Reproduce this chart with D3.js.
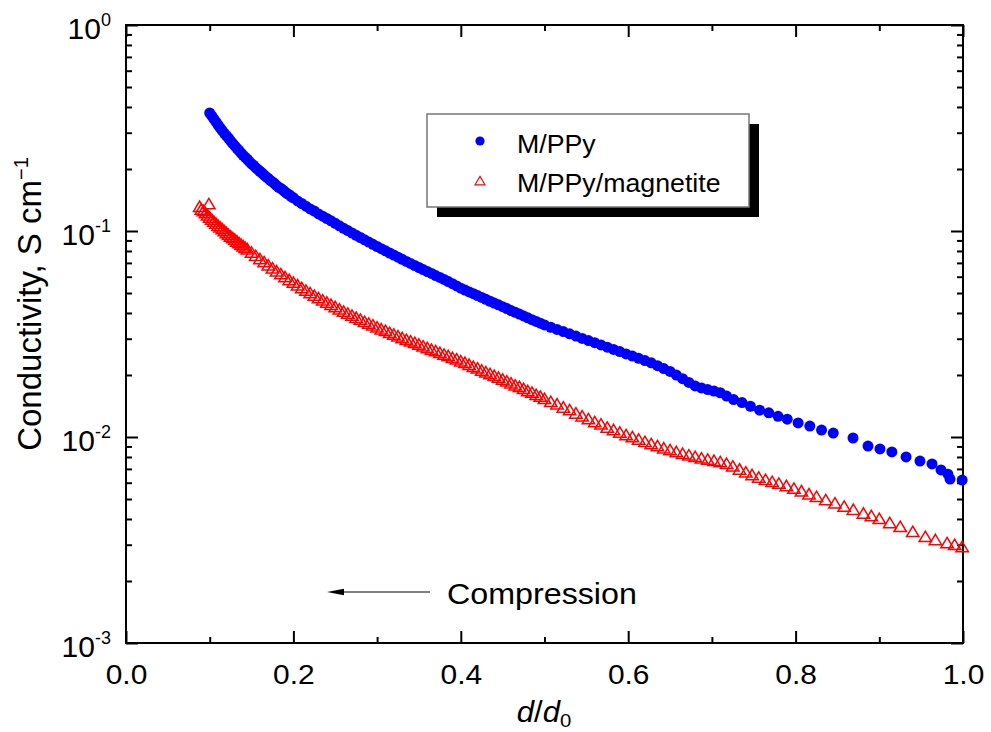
<!DOCTYPE html>
<html><head><meta charset="utf-8">
<script src="https://cdn.jsdelivr.net/npm/d3@7/dist/d3.min.js"></script>
<style>
body{margin:0;background:#fff}
svg{display:block}
text{font-family:"Liberation Sans",Arial,Helvetica,sans-serif;fill:#000}
</style>
</head><body>
<svg id="chart" width="991" height="732"></svg>
<script>
// ---------- data ----------
const seriesNames = ["M/PPy", "M/PPy/magnetite"];
const xTickValues = [0, 0.2, 0.4, 0.6, 0.8, 1.0];
const xMinorValues = [0.1, 0.3, 0.5, 0.7, 0.9];
const yTickValues = [1e-3, 1e-2, 1e-1, 1];
const yTickExponents = ["-3", "-2", "-1", "0"];

const ppyX = [0.100,0.1025,0.105,0.1075,0.110,0.1125,0.115,0.1175,0.120,0.1225,0.125,0.1275,0.130,0.1325,0.135,0.1375,0.140,0.1425,0.145,0.1475,0.150,0.1525,0.155,0.1575,0.160,0.1625,0.165,0.1675,0.170,0.1725,0.175,0.1775,0.180,0.1825,0.185,0.1875,0.190,0.1925,0.195,0.1975,0.200,
0.205,0.210,0.215,0.220,0.225,0.230,0.235,0.240,0.245,0.250,0.255,0.260,0.265,0.270,0.275,0.280,0.285,0.290,0.295,0.300,0.305,0.310,0.315,0.320,0.325,0.330,0.335,0.340,0.345,0.350,0.355,0.360,0.365,0.370,0.375,0.380,0.385,0.390,0.395,0.400,0.405,0.410,0.415,0.420,0.425,0.430,0.435,0.440,0.445,0.450,0.455,0.460,0.465,0.470,0.475,0.480,0.485,0.490,0.495,0.500,
0.5075,0.515,0.5225,0.530,0.5375,0.545,0.5525,0.560,0.5675,0.575,0.5825,0.590,0.5975,0.605,0.6125,0.620,0.6275,0.635,0.6425,0.650,0.6575,0.665,0.6725,0.680,0.6875,0.695,0.7025,0.710,0.7175,
0.726,0.736,0.746,0.757,0.768,0.779,0.790,0.803,0.817,0.831,0.845,
0.8686,0.8865,0.9008,0.915,0.932,0.9486,0.963,0.9737,0.982,0.9845,0.999];
const ppyY = [0.374,0.362,0.350,0.339,0.327,0.317,0.307,0.298,0.290,0.282,0.274,0.266,0.259,0.252,0.246,0.239,0.233,0.228,0.223,0.217,0.212,0.208,0.203,0.199,0.195,0.191,0.187,0.183,0.180,0.176,0.173,0.170,0.166,0.163,0.161,0.158,0.155,0.152,0.150,0.147,0.145,
0.140,0.136,0.132,0.128,0.125,0.121,0.118,0.115,0.112,0.109,0.106,0.103,0.1005,0.0978,0.0953,0.0930,0.0906,0.0884,0.0862,0.0841,0.0821,0.0801,0.0782,0.0764,0.0746,0.0729,0.0712,0.0696,0.0680,0.0665,0.0650,0.0636,0.0622,0.0608,0.0595,0.0582,0.0568,0.0555,0.0541,0.0528,0.0517,0.0506,0.0496,0.0486,0.0476,0.0466,0.0456,0.0447,0.0438,0.0429,0.0420,0.0411,0.0403,0.0395,0.0387,0.0379,0.0371,0.0364,0.0357,0.0350,
0.0341,0.0333,0.0325,0.0317,0.0309,0.0301,0.0294,0.0287,0.0280,0.0273,0.0266,0.0260,0.0253,0.0247,0.0241,0.0235,0.0229,0.0222,0.0215,0.0208,0.0200,0.0192,0.0184,0.0177,0.0173,0.0170,0.0167,0.0164,0.0158,
0.0152,0.0147,0.0141,0.0135,0.0131,0.0126,0.0122,0.0117,0.0113,0.0108,0.01045,
0.00989,0.00904,0.00875,0.00846,0.0080,0.00764,0.0074,0.00692,0.0066,0.00625,0.00618];

const magX = [0.088,0.099,
0.090,0.0925,0.095,0.0975,0.100,0.1025,0.105,0.1075,0.110,0.1125,0.115,0.1175,0.120,0.1225,0.125,0.1275,0.130,0.1325,0.135,0.1375,0.140,0.1425,0.145,
0.150,0.155,0.160,0.165,0.170,0.175,0.180,0.185,0.190,0.195,0.200,0.205,0.210,0.215,0.220,0.225,0.230,0.235,0.240,0.245,0.250,0.255,0.260,0.265,0.270,0.275,0.280,0.285,0.290,0.295,0.300,0.305,0.310,0.315,0.320,0.325,0.330,0.335,0.340,0.345,0.350,0.355,0.360,0.365,0.370,0.375,0.380,0.385,0.390,0.395,0.400,0.405,0.410,0.415,0.420,0.425,0.430,0.435,0.440,0.445,0.450,0.455,0.460,0.465,0.470,0.475,0.480,0.485,0.490,0.495,0.500,
0.5075,0.515,0.5225,0.530,0.5375,0.545,0.5525,0.560,0.5675,0.575,0.5825,0.590,0.5975,0.605,0.6125,0.620,0.6275,0.635,0.6425,0.650,0.6575,0.665,0.6725,0.680,0.6875,0.695,0.7025,0.710,0.7175,
0.725,0.733,0.7405,0.748,0.756,0.764,0.772,0.780,0.789,0.798,0.807,0.816,0.825,0.836,0.847,0.858,0.869,0.881,0.8905,0.900,0.9125,0.925,0.940,0.955,0.967,0.981,0.990,0.999];
const magY = [0.131,0.135,
0.127,0.125,0.122,0.119,0.116,0.1135,0.111,0.1085,0.106,0.104,0.102,0.0998,0.0977,0.0958,0.0940,0.0922,0.0906,0.0889,0.0873,0.0858,0.0843,0.0828,0.0815,
0.0785,0.0757,0.0730,0.0705,0.0681,0.0658,0.0637,0.0617,0.0597,0.0578,0.0561,0.0545,0.0528,0.0513,0.0499,0.0485,0.0472,0.0460,0.0449,0.0438,0.0427,0.0416,0.0406,0.0397,0.0388,0.0379,0.0371,0.0362,0.0355,0.0348,0.0340,0.0333,0.0327,0.0320,0.0314,0.0308,0.0302,0.0296,0.0291,0.0286,0.0281,0.0275,0.0270,0.0265,0.0261,0.0256,0.0251,0.0247,0.0242,0.0238,0.0233,0.0229,0.0224,0.0219,0.0215,0.0210,0.0206,0.0202,0.0198,0.0194,0.0190,0.0186,0.0182,0.0178,0.0175,0.0171,0.0167,0.0164,0.0160,0.0157,0.0153,
0.0148,0.0144,0.0139,0.0135,0.0130,0.0126,0.0122,0.0118,0.0115,0.0111,0.0108,0.0105,0.0102,0.00998,0.00971,0.00946,0.00923,0.00902,0.00881,0.00863,0.00845,0.00828,0.00813,0.00800,0.00787,0.00776,0.00766,0.00755,0.00741,
0.00719,0.00695,0.00673,0.00653,0.00635,0.00619,0.00605,0.00593,0.00578,0.00561,0.00545,0.00527,0.00512,0.00493,0.00476,0.00459,0.00443,0.00425,0.00413,0.00400,0.00382,0.00366,0.00346,0.00327,0.00316,0.00305,0.00299,0.00292];

// ---------- layout ----------
const L = 126, R = 963, T = 25, B = 643;
const svg = d3.select("#chart");
const x = d3.scaleLinear().domain([0, 1]).range([L, R]);
const y = d3.scaleLog().domain([1e-3, 1]).range([B, T]);
const STRETCH = "scale(1.07,1)";

const blue = "#0000ff", red = "#ff0000";
const triPath = "M0,-5.8L6.2,4.6L-6.2,4.6Z";

function styleAxis(g) {
  g.select(".domain").remove();
  g.selectAll(".tick line").attr("stroke", "#000").attr("stroke-width", 2);
}

// minor ticks
const yMinor = y.ticks().filter(v => !yTickValues.some(t => Math.abs(t - v) < v * 1e-6));

svg.append("g").attr("transform", `translate(0,${B})`)
  .call(d3.axisBottom(x).tickValues(xMinorValues).tickSize(-6).tickFormat(""))
  .call(styleAxis);
svg.append("g").attr("transform", `translate(0,${T})`)
  .call(d3.axisTop(x).tickValues(xMinorValues).tickSize(-6).tickFormat(""))
  .call(styleAxis);
svg.append("g").attr("transform", `translate(0,${T})`)
  .call(d3.axisTop(x).tickValues(xTickValues).tickSize(-12).tickFormat(""))
  .call(styleAxis);
svg.append("g").attr("transform", `translate(${L},0)`)
  .call(d3.axisLeft(y).tickValues(yMinor).tickSize(-6).tickFormat(""))
  .call(styleAxis);
svg.append("g").attr("transform", `translate(${R},0)`)
  .call(d3.axisRight(y).tickValues(yMinor).tickSize(-6).tickFormat(""))
  .call(styleAxis);
svg.append("g").attr("transform", `translate(${R},0)`)
  .call(d3.axisRight(y).tickValues(yTickValues).tickSize(-12).tickFormat(""))
  .call(styleAxis);

// bottom major with labels
const xAxisG = svg.append("g").attr("transform", `translate(0,${B})`)
  .call(d3.axisBottom(x).tickValues(xTickValues).tickSize(-12).tickPadding(0).tickFormat(d3.format(".1f")))
  .call(styleAxis);
xAxisG.selectAll(".tick text")
  .attr("y", 41).attr("dy", null)
  .attr("font-size", 28).attr("font-family", null)
  .attr("transform", STRETCH);

// left major with 10^n labels
const yAxisG = svg.append("g").attr("transform", `translate(${L},0)`)
  .call(d3.axisLeft(y).tickValues(yTickValues).tickSize(-12).tickFormat(""))
  .call(styleAxis);
yAxisG.selectAll(".tick text").remove();
yAxisG.selectAll(".tick").each(function(d, i) {
  const t = d3.select(this).append("text")
    .attr("x", -15).attr("y", 13)
    .attr("text-anchor", "end");
  t.append("tspan").attr("font-size", 30).text("10");
  t.append("tspan").attr("font-size", 18).attr("dy", -13).text(yTickExponents[yTickValues.indexOf(d)]);
});

// frame
svg.append("rect").attr("x", L).attr("y", T).attr("width", R - L).attr("height", B - T)
  .attr("fill", "none").attr("stroke", "#000").attr("stroke-width", 2);

// data
const ppyData = ppyX.map((v, i) => ({x: v, y: ppyY[i]}));
const magData = magX.map((v, i) => ({x: v, y: magY[i]}));

svg.append("g").selectAll("path").data(magData).join("path")
  .attr("d", triPath)
  .attr("transform", d => `translate(${x(d.x)},${y(d.y)})`)
  .attr("fill", "none").attr("stroke", red).attr("stroke-width", 1.5);

svg.append("g").selectAll("circle").data(ppyData).join("circle")
  .attr("cx", d => x(d.x)).attr("cy", d => y(d.y)).attr("r", 5.5)
  .attr("fill", blue);

// legend
const lg = svg.append("g");
lg.append("rect").attr("x", 437).attr("y", 124).attr("width", 322).attr("height", 93).attr("fill", "#000");
lg.append("rect").attr("x", 427).attr("y", 114).attr("width", 322).attr("height", 93)
  .attr("fill", "#fff").attr("stroke", "#777").attr("stroke-width", 1.5);
lg.append("circle").attr("cx", 480).attr("cy", 141).attr("r", 4.6).attr("fill", blue);
lg.append("path").attr("d", "M0,-4.6L5,3.8L-5,3.8Z").attr("transform", "translate(480,181)")
  .attr("fill", "none").attr("stroke", red).attr("stroke-width", 1.2);
lg.append("text").attr("transform", "translate(517,153) " + STRETCH).attr("font-size", 25).text(seriesNames[0]);
lg.append("text").attr("transform", "translate(517,192) " + STRETCH).attr("font-size", 25).text(seriesNames[1]);

// compression annotation
svg.append("line").attr("x1", 340).attr("x2", 430).attr("y1", 592).attr("y2", 592)
  .attr("stroke", "#000").attr("stroke-width", 1.2);
svg.append("path").attr("d", "M327,592L344,588.8L344,595.2Z").attr("fill", "#000");
svg.append("text").attr("transform", "translate(447,604) scale(1.075,1)").attr("font-size", 30).text("Compression");

// axis titles
const xt = svg.append("text").attr("transform", "translate(544,722) " + STRETCH)
  .attr("text-anchor", "middle").attr("font-size", 29);
xt.append("tspan").attr("font-style", "italic").text("d");
xt.append("tspan").text("/");
xt.append("tspan").attr("font-style", "italic").text("d");
xt.append("tspan").attr("font-size", 19).attr("dy", 5).text("0");

const yt = svg.append("text").attr("transform", "translate(41,304) rotate(-90)")
  .attr("text-anchor", "middle").attr("font-size", 33);
yt.append("tspan").text("Conductivity, S cm");
yt.append("tspan").attr("font-size", 20).attr("dy", -13).text("\u22121");
</script>
</body></html>
